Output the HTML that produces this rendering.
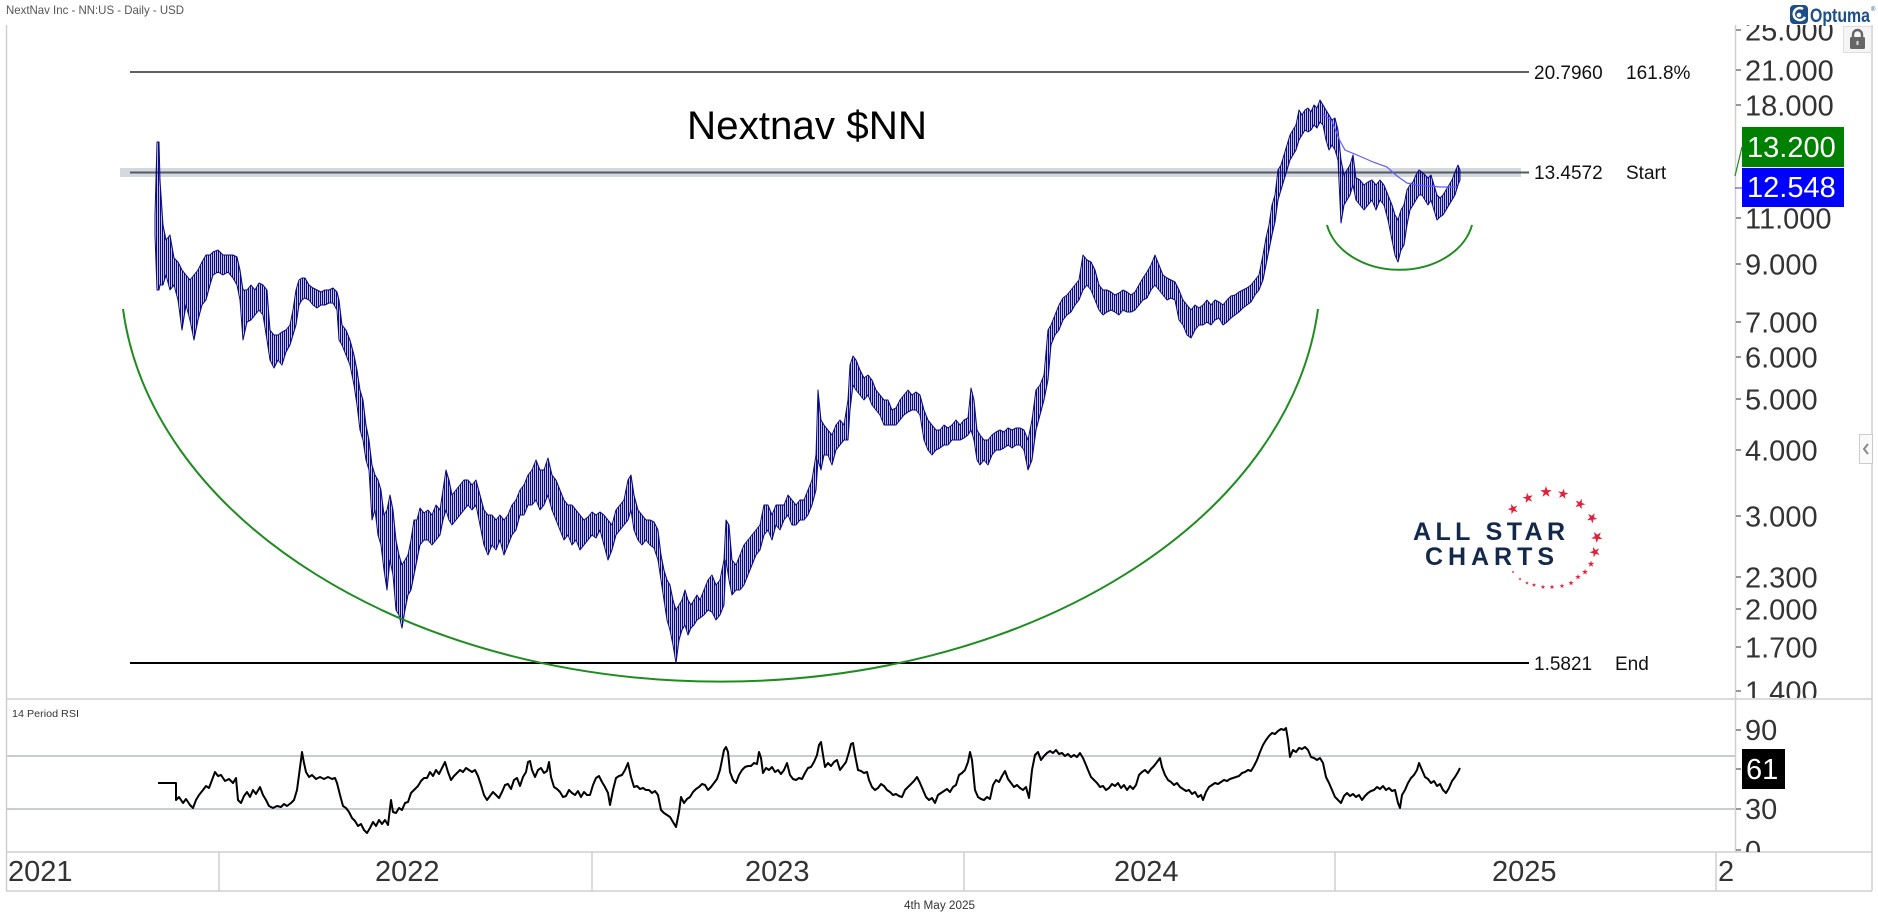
<!DOCTYPE html>
<html><head><meta charset="utf-8"><style>
html,body{margin:0;padding:0;background:#fff;overflow:hidden;}
svg{display:block;font-family:"Liberation Sans",sans-serif;}
</style></head><body>
<svg width="1878" height="924" viewBox="0 0 1878 924" xmlns="http://www.w3.org/2000/svg">
<defs>
<pattern id="bp" width="2" height="10" patternUnits="userSpaceOnUse"><rect x="0" y="0" width="1.25" height="10" fill="#0a0a84"/></pattern>
<clipPath id="cpa"><rect x="1736" y="25" width="136" height="673"/></clipPath>
<clipPath id="cra"><rect x="1736" y="700" width="136" height="152"/></clipPath>
<polygon id="st" points="0,-1 0.223,-0.307 0.951,-0.309 0.361,0.117 0.588,0.809 0,0.38 -0.588,0.809 -0.361,0.117 -0.951,-0.309 -0.223,-0.307" fill="#e41f3a"/>
</defs>
<rect width="1878" height="924" fill="#fff"/>

<!-- header -->
<text x="6" y="14" font-size="12" fill="#555" textLength="178" lengthAdjust="spacingAndGlyphs">NextNav Inc - NN:US - Daily - USD</text>

<!-- frame -->
<g stroke="#cfcfcf" stroke-width="1.5" fill="none">
<line x1="6.5" y1="25" x2="6.5" y2="891"/>
<line x1="1872" y1="25" x2="1872" y2="891"/>
<line x1="1735.5" y1="25" x2="1735.5" y2="852"/>
<line x1="6" y1="699" x2="1872" y2="699"/>
<line x1="6" y1="852" x2="1872" y2="852"/>
<line x1="6" y1="891" x2="1872" y2="891"/>
<line x1="219" y1="852" x2="219" y2="891"/>
<line x1="592" y1="852" x2="592" y2="891"/>
<line x1="964" y1="852" x2="964" y2="891"/>
<line x1="1335" y1="852" x2="1335" y2="891"/>
<line x1="1716" y1="852" x2="1716" y2="891"/>
</g>

<!-- fib lines -->
<line x1="130" y1="72" x2="1529" y2="72" stroke="#000" stroke-width="1.2"/>
<rect x="120" y="168" width="1401" height="9" fill="#d4d9df"/>
<line x1="130" y1="172.5" x2="1529" y2="172.5" stroke="#555a60" stroke-width="2"/>
<line x1="130" y1="663" x2="1529" y2="663" stroke="#000" stroke-width="2"/>
<g font-size="19" fill="#111">
<text x="1534" y="79">20.7960</text><text x="1626" y="79">161.8%</text>
<text x="1534" y="179">13.4572</text><text x="1626" y="179">Start</text>
<text x="1534" y="670">1.5821</text><text x="1615" y="670">End</text>
</g>

<!-- title -->
<text x="687" y="139" font-size="40" fill="#000" textLength="240" lengthAdjust="spacingAndGlyphs">Nextnav $NN</text>

<!-- price bars -->
<polygon fill="url(#bp)" stroke="#0a0a84" stroke-width="1" stroke-linejoin="round" points="155,215 157,142 159,142 160,180 163,225 166,240 170,235 174,258 178,262 182,270 186,275 190,280 194,275 198,270 202,262 206,255 210,255 213,252 218,250 223,255 228,255 233,255 237,257 240,270 243,290 247,290 251,285 255,290 259,283 263,285 267,290 270,330 274,335 278,335 282,332 286,330 290,325 293,310 296,290 299,280 302,278 305,278 309,285 313,288 317,290 321,292 325,290 329,290 333,288 337,292 339,300 342,325 346,330 350,340 354,355 357,370 360,390 363,400 366,425 369,440 372,465 375,475 378,480 381,490 384,515 387,510 390,495 393,510 396,540 399,555 402,565 405,560 408,555 411,540 414,520 417,520 420,508 424,513 428,510 432,515 436,505 440,510 443,490 446,470 449,480 452,495 456,490 460,485 464,480 468,480 472,485 476,480 480,495 484,510 488,515 492,515 496,520 500,515 504,520 508,515 512,505 516,500 520,490 524,485 528,475 532,470 536,460 540,470 544,470 548,458 552,475 556,480 560,490 564,500 568,505 572,505 576,510 580,515 584,520 588,517 592,512 596,515 600,512 604,515 608,520 612,525 616,510 620,505 624,500 628,480 631,475 634,495 638,510 642,515 646,520 650,520 654,522 658,530 661,555 664,570 667,580 670,585 673,600 676,610 679,605 682,600 685,590 688,600 691,605 694,600 697,595 700,600 704,590 708,580 712,575 716,585 720,580 724,560 726,520 729,525 732,560 736,565 740,555 744,545 748,540 752,535 756,530 760,525 764,505 768,505 772,515 776,505 780,505 784,505 788,495 792,500 796,505 800,500 804,500 808,490 812,480 816,455 818,390 821,420 824,425 828,430 832,435 836,425 840,420 844,425 848,400 850,365 853,356 856,360 860,370 864,378 868,375 872,380 876,390 880,395 884,400 888,400 892,410 896,408 900,400 904,395 908,390 912,395 916,392 920,395 924,410 928,420 932,425 936,430 940,430 944,425 948,428 952,425 956,420 960,425 964,420 968,418 971,388 974,400 977,430 980,435 984,440 988,440 992,435 996,432 1000,430 1004,432 1008,428 1012,430 1016,428 1020,428 1024,430 1028,440 1032,420 1036,390 1040,385 1044,375 1048,330 1051,325 1055,315 1059,305 1063,298 1067,295 1071,290 1075,285 1079,280 1083,255 1087,260 1091,262 1095,270 1099,285 1103,290 1107,290 1111,292 1115,295 1119,293 1123,290 1127,292 1131,295 1135,292 1139,285 1143,278 1147,272 1151,265 1155,255 1159,265 1163,275 1167,278 1171,280 1175,282 1179,290 1183,300 1187,305 1191,310 1195,305 1199,308 1203,305 1207,300 1211,305 1215,300 1219,302 1223,305 1227,300 1231,296 1235,295 1239,292 1243,290 1247,288 1251,285 1255,280 1259,275 1263,255 1266,238 1269,225 1272,205 1275,195 1278,170 1281,165 1284,155 1287,145 1290,135 1293,130 1296,125 1299,110 1302,115 1305,110 1308,108 1311,112 1314,105 1317,108 1320,100 1323,105 1326,110 1329,115 1332,120 1335,118 1338,130 1341,160 1344,175 1347,170 1350,165 1353,155 1356,178 1360,180 1364,185 1368,182 1372,180 1376,185 1380,180 1384,185 1388,195 1392,205 1395,215 1398,220 1401,210 1404,205 1407,190 1410,185 1413,182 1416,175 1419,170 1422,172 1425,175 1428,178 1431,175 1434,185 1437,195 1440,198 1443,195 1446,190 1449,185 1452,180 1455,172 1458,165 1460,170 1460,180 1458,185 1455,195 1452,200 1449,205 1446,210 1443,215 1440,217 1437,220 1434,210 1431,200 1428,205 1425,200 1422,195 1419,195 1416,200 1413,205 1410,210 1407,225 1404,245 1401,250 1398,262 1395,255 1392,240 1388,220 1384,205 1380,200 1376,210 1372,200 1368,205 1364,210 1360,205 1356,200 1353,185 1350,195 1347,200 1344,205 1341,223 1338,160 1335,150 1332,145 1329,150 1326,140 1323,125 1320,122 1317,128 1314,125 1311,130 1308,132 1305,130 1302,135 1299,140 1296,150 1293,155 1290,160 1287,170 1284,180 1281,190 1278,200 1275,222 1272,235 1269,250 1266,265 1263,280 1259,290 1255,295 1251,302 1247,305 1243,308 1239,312 1235,315 1231,318 1227,322 1223,325 1219,318 1215,320 1211,325 1207,322 1203,325 1199,325 1195,330 1191,338 1187,335 1183,325 1179,320 1175,300 1171,298 1167,300 1163,295 1159,290 1155,285 1151,290 1147,298 1143,300 1139,305 1135,310 1131,312 1127,312 1123,310 1119,315 1115,312 1111,310 1107,312 1103,315 1099,310 1095,300 1091,290 1087,285 1083,290 1079,300 1075,305 1071,312 1067,315 1063,320 1059,330 1055,335 1051,345 1048,380 1044,400 1040,415 1036,430 1032,460 1028,470 1024,450 1020,445 1016,445 1012,448 1008,445 1004,448 1000,450 996,450 992,455 988,465 984,460 980,465 977,460 974,440 971,430 968,435 964,438 960,440 956,440 952,440 948,445 944,445 940,448 936,450 932,455 928,450 924,440 920,415 916,410 912,410 908,412 904,415 900,420 896,425 892,425 888,425 884,425 880,415 876,410 872,405 868,395 864,400 860,395 856,390 853,385 850,410 848,440 844,440 840,445 836,450 832,465 828,455 824,455 821,470 818,460 816,490 812,505 808,515 804,520 800,520 796,525 792,525 788,515 784,520 780,530 776,525 772,540 768,530 764,535 760,550 756,555 752,565 748,575 744,585 740,590 736,590 732,595 729,580 726,560 724,605 720,615 716,620 712,612 708,610 704,615 700,618 697,620 694,625 691,628 688,635 685,625 682,630 679,640 676,663 673,645 670,630 667,620 664,600 661,580 658,560 654,548 650,545 646,540 642,545 638,540 634,530 631,510 628,520 624,525 620,530 616,535 612,550 608,560 604,545 600,530 596,538 592,535 588,540 584,545 580,550 576,540 572,545 568,535 564,540 560,530 556,520 552,510 548,495 544,505 540,510 536,500 532,505 528,505 524,515 520,515 516,530 512,535 508,545 504,555 500,540 496,550 492,545 488,555 484,545 480,525 476,505 472,510 468,505 464,510 460,515 456,520 452,525 449,520 446,510 443,520 440,535 436,540 432,545 428,540 424,540 420,545 417,560 414,575 411,590 408,595 405,610 402,628 399,615 396,610 393,575 390,560 387,590 384,570 381,545 378,535 375,510 372,520 369,470 366,460 363,440 360,430 357,405 354,385 350,365 346,355 342,345 339,340 337,310 333,303 329,303 325,305 321,305 317,308 313,305 309,300 305,298 302,300 299,305 296,325 293,335 290,345 286,352 282,365 278,360 274,368 270,360 267,340 263,315 259,310 255,315 251,320 247,322 243,340 240,300 237,285 233,278 228,272 223,275 218,272 213,275 210,285 206,300 202,305 198,320 194,340 190,320 186,305 182,330 178,300 174,285 170,290 166,275 163,285 160,285 159,290 157,290 155,235"/>

<!-- moving average -->
<polyline fill="none" stroke="#5c5cff" stroke-width="1.2" points="1323,114 1332,121 1340,141 1345,150 1357,155 1373,162 1387,167 1397,176 1407,183 1417,185 1440,187 1457,187"/>

<!-- arcs -->
<path d="M123,309 A600,410 0 0 0 1318,309" fill="none" stroke="#1f8c1f" stroke-width="2"/>
<path d="M1327,225 A74,56 0 0 0 1472,225" fill="none" stroke="#1f8c1f" stroke-width="2"/>

<!-- All Star Charts logo -->
<g fill="#13294b" font-weight="bold" font-size="25">
<text x="1413" y="540" textLength="152" lengthAdjust="spacing">ALL STAR</text>
<text x="1425" y="565" textLength="129" lengthAdjust="spacing">CHARTS</text>
</g>
<g>
<use href="#st" transform="translate(1513,509) scale(5.5) rotate(-20)"/>
<use href="#st" transform="translate(1528,498) scale(5.5) rotate(-12)"/>
<use href="#st" transform="translate(1546,492) scale(6)"/>
<use href="#st" transform="translate(1563,494) scale(5.5) rotate(10)"/>
<use href="#st" transform="translate(1580,504) scale(5.5) rotate(20)"/>
<use href="#st" transform="translate(1592,518) scale(5.5) rotate(30)"/>
<use href="#st" transform="translate(1597,537) scale(6) rotate(40)"/>
<use href="#st" transform="translate(1595,552) scale(5.5) rotate(50)"/>
<use href="#st" transform="translate(1591,564) scale(3.5)"/>
<use href="#st" transform="translate(1585,572) scale(3.2)"/>
<use href="#st" transform="translate(1578,577) scale(3)"/>
<use href="#st" transform="translate(1571,583) scale(2.8)"/>
<use href="#st" transform="translate(1562,586) scale(2.6)"/>
<use href="#st" transform="translate(1552,587) scale(2.6)"/>
<use href="#st" transform="translate(1543,587) scale(2.5)"/>
<use href="#st" transform="translate(1534,585) scale(2.3)"/>
<use href="#st" transform="translate(1527,583) scale(2)"/>
<use href="#st" transform="translate(1520,579) scale(1.8)"/>
<use href="#st" transform="translate(1513,572) scale(1.6)"/>
</g>

<!-- price axis -->
<g stroke="#333" stroke-width="1">
<line x1="1736" y1="30" x2="1741" y2="30"/><line x1="1736" y1="70" x2="1741" y2="70"/>
<line x1="1736" y1="105" x2="1741" y2="105"/><line x1="1736" y1="218" x2="1741" y2="218"/>
<line x1="1736" y1="264" x2="1741" y2="264"/><line x1="1736" y1="322" x2="1741" y2="322"/>
<line x1="1736" y1="357" x2="1741" y2="357"/><line x1="1736" y1="399" x2="1741" y2="399"/>
<line x1="1736" y1="450" x2="1741" y2="450"/><line x1="1736" y1="516" x2="1741" y2="516"/>
<line x1="1736" y1="577" x2="1741" y2="577"/><line x1="1736" y1="609" x2="1741" y2="609"/>
<line x1="1736" y1="647" x2="1741" y2="647"/><line x1="1736" y1="691" x2="1741" y2="691"/>
</g>
<g clip-path="url(#cpa)" font-size="29" fill="#333">
<text x="1745" y="40.5">25.000</text><text x="1745" y="80.5">21.000</text>
<text x="1745" y="115.5">18.000</text><text x="1745" y="228.5">11.000</text>
<text x="1745" y="274.5">9.000</text><text x="1745" y="332.5">7.000</text>
<text x="1745" y="367.5">6.000</text><text x="1745" y="409.5">5.000</text>
<text x="1745" y="460.5">4.000</text><text x="1745" y="526.5">3.000</text>
<text x="1745" y="587.5">2.300</text><text x="1745" y="619.5">2.000</text>
<text x="1745" y="657.5">1.700</text><text x="1745" y="701.5">1.400</text>
</g>
<line x1="1735" y1="176" x2="1742" y2="147" stroke="#1f8c1f" stroke-width="1.2"/>
<line x1="1735" y1="188" x2="1742" y2="188" stroke="#3333ff" stroke-width="1"/>
<rect x="1742" y="127" width="102" height="40" fill="#008000"/>
<text x="1747" y="157" font-size="29" fill="#fff">13.200</text>
<rect x="1742" y="168" width="102" height="39" fill="#0000ff"/>
<text x="1747" y="197" font-size="29" fill="#fff">12.548</text>

<!-- lock & optuma -->
<rect x="1843.5" y="26.5" width="28" height="26" fill="#f5f5f5" stroke="#dddddd"/>
<path d="M1853,38 v-3.5 a4.5,4.5 0 0 1 9,0 v3.5" fill="none" stroke="#666" stroke-width="2.4"/>
<rect x="1850" y="37" width="15" height="12" rx="1.5" fill="#666"/>
<rect x="1856.5" y="41" width="2" height="4" fill="#ddd"/>
<rect x="1790" y="5" width="18" height="19" rx="4" fill="#1c4e8a"/>
<path d="M1803,9 a6,6 0 1 0 2,8" fill="none" stroke="#fff" stroke-width="2.5"/>
<circle cx="1799" cy="15" r="2.3" fill="#fff"/>
<text x="1810" y="22" font-size="19" font-weight="bold" fill="#1c4e8a" textLength="60" lengthAdjust="spacingAndGlyphs">Optuma</text>
<text x="1871" y="11" font-size="6" fill="#1c4e8a">®</text>
<rect x="1859.5" y="434.5" width="13" height="29" fill="#fafafa" stroke="#cccccc"/>
<path d="M1868,444 l-4,5 l4,5" fill="none" stroke="#888" stroke-width="2"/>

<!-- RSI panel -->
<text x="12" y="717" font-size="10.5" fill="#333" textLength="67" lengthAdjust="spacingAndGlyphs">14 Period RSI</text>
<line x1="6" y1="756" x2="1735" y2="756" stroke="#c9ccd4" stroke-width="2"/>
<line x1="6" y1="809" x2="1735" y2="809" stroke="#c9ccd4" stroke-width="2"/>
<polyline fill="none" stroke="#000" stroke-width="2" stroke-linejoin="round" points="158,783 176,783 176,800 179,797 183,803 186,799 190,805 193,808 196,800 199,795 203,790 206,786 209,788 212,780 215,772 218,776 221,775 225,781 229,779 233,783 236,778 238,800 241,803 244,796 247,792 250,797 253,790 256,794 260,787 263,795 266,800 269,806 273,808 277,806 281,807 284,804 287,806 291,803 294,800 297,790 299,775 301,760 302,752 304,763 306,772 309,777 312,775 316,779 320,777 324,779 328,777 332,779 335,778 337,783 340,795 343,806 346,808 349,812 352,818 355,821 358,826 361,824 364,830 367,833 370,828 373,822 376,826 379,820 382,824 385,820 388,825 391,800 393,812 396,813 399,808 402,810 405,803 408,802 411,793 414,790 418,786 421,781 424,778 427,778 430,772 433,776 436,770 439,774 442,768 445,762 448,772 451,780 454,776 457,773 460,770 463,772 466,768 469,770 472,772 475,770 478,776 481,785 484,795 487,800 490,796 493,792 496,795 499,798 502,792 505,785 508,784 511,789 514,780 517,778 520,786 523,777 526,772 528,762 530,761 532,770 535,777 538,770 541,768 544,773 547,771 549,762 551,777 554,787 557,789 560,792 563,797 566,796 569,790 572,793 575,795 578,791 581,797 584,792 587,795 590,795 593,785 596,778 599,776 602,782 605,787 608,793 610,805 613,790 616,778 619,776 622,775 625,770 628,763 631,777 634,787 637,786 640,789 643,788 646,790 649,790 652,793 655,791 658,795 661,810 664,813 667,815 670,817 673,822 676,827 679,812 681,797 684,803 687,799 690,797 693,792 696,789 699,787 702,784 705,785 708,790 711,787 714,783 717,779 720,770 722,760 724,750 726,747 728,752 730,772 733,780 736,783 739,775 742,770 745,767 748,766 751,766 754,763 757,764 759,752 761,758 763,773 766,768 769,770 772,767 775,772 778,770 781,774 784,770 787,763 790,775 793,779 796,780 799,778 802,779 805,773 808,768 811,767 814,762 817,755 819,745 821,742 823,755 825,767 828,763 831,766 834,762 837,760 840,770 843,766 846,762 849,752 851,744 853,743 855,755 858,770 861,771 864,773 867,772 869,780 872,787 875,790 878,788 881,784 884,786 887,790 890,792 893,795 896,794 899,796 902,797 905,790 908,787 911,784 914,781 917,777 920,783 923,790 926,797 929,800 932,798 935,803 938,795 941,793 944,791 947,789 950,792 953,787 956,785 959,775 962,773 965,770 968,762 970,752 972,760 975,790 978,797 981,799 984,800 987,797 990,799 993,785 996,780 999,782 1002,776 1005,771 1008,779 1011,783 1014,787 1017,785 1020,788 1023,790 1026,787 1029,798 1032,770 1035,755 1038,752 1041,760 1044,756 1047,753 1050,751 1053,753 1056,750 1059,754 1062,753 1065,756 1068,754 1071,757 1074,755 1077,757 1080,753 1083,758 1086,765 1088,770 1091,777 1094,780 1097,783 1100,787 1103,786 1106,790 1109,788 1112,784 1115,786 1118,783 1121,788 1124,785 1127,790 1130,786 1133,789 1136,785 1139,775 1142,772 1145,770 1148,773 1151,769 1154,766 1157,762 1160,758 1162,767 1165,775 1168,780 1171,782 1174,785 1177,783 1180,787 1183,789 1186,791 1189,790 1192,794 1195,792 1198,797 1201,795 1203,800 1206,792 1209,787 1212,785 1215,783 1218,784 1221,782 1224,780 1227,781 1230,779 1233,778 1236,777 1239,776 1242,773 1245,772 1248,770 1251,771 1254,766 1257,760 1260,752 1263,745 1266,740 1269,736 1272,733 1275,734 1278,731 1281,729 1284,730 1286,728 1288,740 1290,757 1293,750 1296,752 1299,748 1302,749 1305,747 1308,750 1311,757 1314,758 1317,760 1320,758 1323,763 1326,777 1329,783 1332,790 1335,797 1338,800 1341,803 1344,796 1347,793 1350,796 1353,794 1356,797 1359,795 1362,800 1365,796 1368,793 1371,791 1374,790 1377,787 1380,789 1383,786 1386,790 1389,788 1392,791 1395,790 1398,803 1400,808 1402,795 1405,790 1408,783 1411,778 1414,775 1417,770 1419,763 1422,770 1425,777 1428,779 1431,783 1434,781 1437,786 1440,784 1443,790 1446,793 1449,788 1452,781 1455,777 1458,772 1460,768"/>
<g stroke="#333" stroke-width="1">
<line x1="1736" y1="730" x2="1741" y2="730"/><line x1="1736" y1="769" x2="1741" y2="769"/>
<line x1="1736" y1="809" x2="1741" y2="809"/><line x1="1736" y1="850" x2="1741" y2="850"/>
</g>
<g clip-path="url(#cra)" font-size="29" fill="#333">
<text x="1745" y="740">90</text><text x="1745" y="819">30</text><text x="1745" y="861">0</text>
</g>
<rect x="1742" y="749" width="43" height="40" fill="#000"/>
<text x="1746" y="779" font-size="29" fill="#fff">61</text>

<!-- date axis -->
<g font-size="29" fill="#333">
<text x="8" y="881">2021</text>
<text x="375" y="881">2022</text>
<text x="745" y="881">2023</text>
<text x="1114" y="881">2024</text>
<text x="1492" y="881">2025</text>
<text x="1718" y="881">2</text>
</g>
<text x="904" y="909" font-size="11.5" fill="#333" textLength="71" lengthAdjust="spacingAndGlyphs">4th May 2025</text>
</svg>
</body></html>
